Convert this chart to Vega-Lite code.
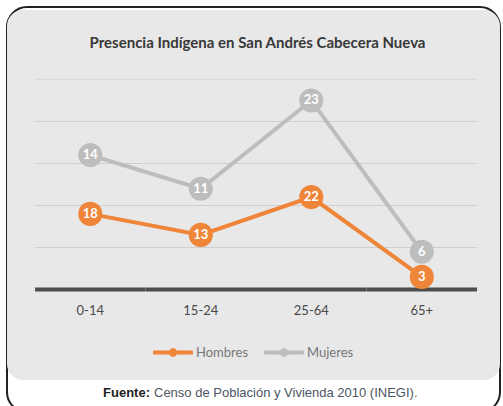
{
  "$schema": "https://vega.github.io/schema/vega-lite/v6.json",
  "width": 493,
  "height": 405,
  "autosize": {"type": "none"},
  "padding": {"left": 7, "top": 7, "right": 3, "bottom": -6},
  "background": "white",
  "config": {
    "view": {"fill": "white", "stroke": "#222222", "strokeWidth": 2, "cornerRadius": 20},
    "legend": {"padding": 0}
  },
  "datasets": {
    "main": [
      {"grupo": "0-14", "sexo": "Hombres", "valor": 18},
      {"grupo": "15-24", "sexo": "Hombres", "valor": 13},
      {"grupo": "25-64", "sexo": "Hombres", "valor": 22},
      {"grupo": "65+", "sexo": "Hombres", "valor": 3},
      {"grupo": "0-14", "sexo": "Mujeres", "valor": 14},
      {"grupo": "15-24", "sexo": "Mujeres", "valor": 11},
      {"grupo": "25-64", "sexo": "Mujeres", "valor": 23},
      {"grupo": "65+", "sexo": "Mujeres", "valor": 6}
    ]
  },
  "data": {"name": "main"},
  "transform": [
    {"stack": "valor", "groupby": ["grupo"], "sort": [{"field": "sexo", "order": "ascending"}], "as": ["y0", "y1"]}
  ],
  "layer": [
    {
      "data": {"values": [{}]},
      "mark": {"type": "rect", "fill": "#E8E8E8", "cornerRadius": 16},
      "encoding": {
        "y": {"datum": 66.55, "type": "quantitative", "scale": {"domain": [-29.17, 67.26], "nice": false, "zero": false}, "axis": null},
        "y2": {"datum": -21.55}
      }
    },
    {
      "transform": [{"filter": "datum.sexo === 'Hombres'"}],
      "mark": {"type": "tick", "size": 110.5, "thickness": 1, "color": "#CFCFCF", "opacity": 1},
      "encoding": {
        "x": {"field": "grupo", "type": "nominal", "sort": ["0-14", "15-24", "25-64", "65+"], "scale": {"paddingInner": 0, "paddingOuter": 0.2308, "align": 0.55}, "axis": null},
        "y": {"datum": 10, "type": "quantitative"}
      }
    },
    {
      "transform": [{"filter": "datum.sexo === 'Hombres'"}],
      "mark": {"type": "tick", "size": 110.5, "thickness": 1, "color": "#CFCFCF", "opacity": 1},
      "encoding": {
        "x": {"field": "grupo", "type": "nominal", "sort": ["0-14", "15-24", "25-64", "65+"]},
        "y": {"datum": 20, "type": "quantitative"}
      }
    },
    {
      "transform": [{"filter": "datum.sexo === 'Hombres'"}],
      "mark": {"type": "tick", "size": 110.5, "thickness": 1, "color": "#CFCFCF", "opacity": 1},
      "encoding": {
        "x": {"field": "grupo", "type": "nominal", "sort": ["0-14", "15-24", "25-64", "65+"]},
        "y": {"datum": 30, "type": "quantitative"}
      }
    },
    {
      "transform": [{"filter": "datum.sexo === 'Hombres'"}],
      "mark": {"type": "tick", "size": 110.5, "thickness": 1, "color": "#CFCFCF", "opacity": 1},
      "encoding": {
        "x": {"field": "grupo", "type": "nominal", "sort": ["0-14", "15-24", "25-64", "65+"]},
        "y": {"datum": 40, "type": "quantitative"}
      }
    },
    {
      "transform": [{"filter": "datum.sexo === 'Hombres'"}],
      "mark": {"type": "tick", "size": 110.5, "thickness": 1, "color": "#DADADA", "opacity": 1},
      "encoding": {
        "x": {"field": "grupo", "type": "nominal", "sort": ["0-14", "15-24", "25-64", "65+"]},
        "y": {"datum": 50, "type": "quantitative"}
      }
    },
    {
      "transform": [{"filter": "datum.sexo === 'Hombres'"}],
      "mark": {"type": "tick", "size": 110.5, "thickness": 4, "color": "#4D4D4D", "opacity": 1},
      "encoding": {
        "x": {"field": "grupo", "type": "nominal", "sort": ["0-14", "15-24", "25-64", "65+"]},
        "y": {"datum": 0, "type": "quantitative"}
      }
    },
    {
      "mark": {"type": "line", "strokeWidth": 4},
      "encoding": {
        "x": {"field": "grupo", "type": "nominal", "sort": ["0-14", "15-24", "25-64", "65+"]},
        "y": {"field": "y1", "type": "quantitative", "stack": null},
        "color": {
          "field": "sexo", "type": "nominal",
          "scale": {"domain": ["Hombres", "Mujeres"], "range": ["#EF8538", "#BDBDBD"]},
          "legend": {
            "orient": "none", "legendX": 146, "legendY": 325.5, "direction": "horizontal", "title": null,
            "symbolType": "M-1,-0.08H-0.2V0.08H-1Z M0.2,-0.08H1V0.08H0.2Z M-0.2,0A0.2,0.2 0 1 1 0.2,0A0.2,0.2 0 1 1 -0.2,0Z",
            "symbolSize": 1521, "symbolStrokeWidth": 1, "symbolOpacity": 1,
            "labelFont": "Lato", "labelFontSize": 13, "labelColor": "#777777", "labelOffset": 3, "columnPadding": 13
          }
        }
      }
    },
    {
      "mark": {"type": "point", "filled": true, "size": 580, "opacity": 1},
      "encoding": {
        "x": {"field": "grupo", "type": "nominal", "sort": ["0-14", "15-24", "25-64", "65+"]},
        "y": {"field": "y1", "type": "quantitative", "stack": null},
        "color": {
          "field": "sexo", "type": "nominal",
          "scale": {"domain": ["Hombres", "Mujeres"], "range": ["#EF8538", "#BDBDBD"]},
          "legend": {
            "orient": "none", "legendX": 146, "legendY": 325.5, "direction": "horizontal", "title": null,
            "symbolType": "M-1,-0.08H-0.2V0.08H-1Z M0.2,-0.08H1V0.08H0.2Z M-0.2,0A0.2,0.2 0 1 1 0.2,0A0.2,0.2 0 1 1 -0.2,0Z",
            "symbolSize": 1521, "symbolStrokeWidth": 1, "symbolOpacity": 1,
            "labelFont": "Lato", "labelFontSize": 13, "labelColor": "#777777", "labelOffset": 3, "columnPadding": 13
          }
        }
      }
    },
    {
      "mark": {"type": "text", "color": "white", "font": "Lato", "fontWeight": "bold", "fontSize": 13},
      "encoding": {
        "x": {"field": "grupo", "type": "nominal", "sort": ["0-14", "15-24", "25-64", "65+"]},
        "y": {"field": "y1", "type": "quantitative", "stack": null},
        "detail": {"field": "sexo", "type": "nominal"},
        "text": {"field": "valor", "type": "quantitative"}
      }
    },
    {
      "transform": [{"filter": "datum.sexo === 'Hombres'"}],
      "mark": {"type": "text", "color": "#4A4A4A", "font": "Lato", "fontSize": 13},
      "encoding": {
        "x": {"field": "grupo", "type": "nominal", "sort": ["0-14", "15-24", "25-64", "65+"]},
        "y": {"datum": -5.12, "type": "quantitative"},
        "text": {"field": "grupo", "type": "nominal"}
      }
    },
    {
      "data": {"values": [{}]},
      "mark": {"type": "text", "color": "#383838", "font": "Lato", "fontWeight": "bold", "fontSize": 15, "dx": 4},
      "encoding": {
        "y": {"datum": 58.69, "type": "quantitative"},
        "text": {"value": "Presencia Indígena en San Andrés Cabecera Nueva"}
      }
    },
    {
      "data": {"values": [{}]},
      "mark": {"type": "text", "color": "#222222", "font": "Liberation Sans", "fontWeight": "bold", "fontSize": 13, "align": "right", "dx": -103.5},
      "encoding": {
        "y": {"datum": -24.64, "type": "quantitative"},
        "text": {"value": "Fuente:"}
      }
    },
    {
      "data": {"values": [{}]},
      "mark": {"type": "text", "color": "#4B5563", "font": "Liberation Sans", "fontSize": 13, "align": "left", "dx": -99.5},
      "encoding": {
        "y": {"datum": -24.64, "type": "quantitative"},
        "text": {"value": "Censo de Población y Vivienda 2010 (INEGI)."}
      }
    }
  ]
}
